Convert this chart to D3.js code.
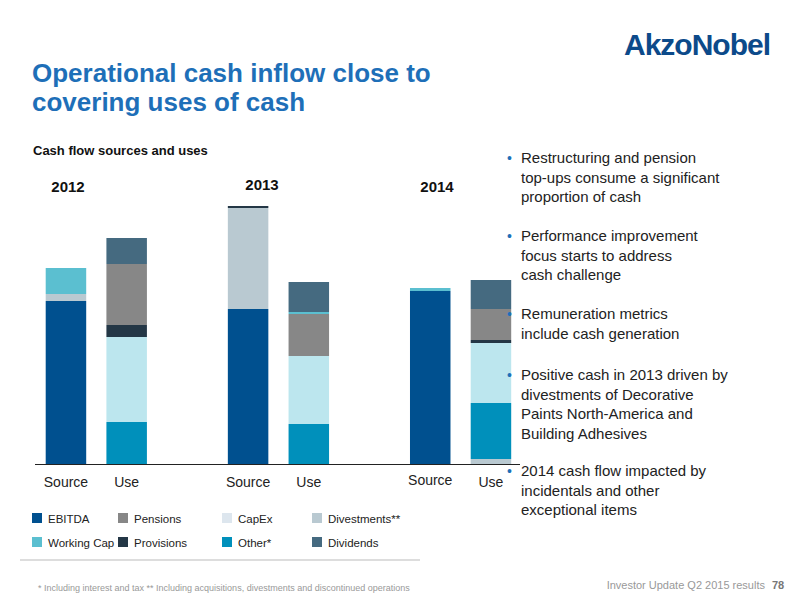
<!DOCTYPE html><html><head><meta charset="utf-8"><script src="https://cdn.jsdelivr.net/npm/d3@7"></script>
<style>body{margin:0;background:#fff}svg{font-family:Arial,"Liberation Sans",sans-serif}</style></head><body>
<svg id="c" width="800" height="600"></svg>
<script>
const seriesNames=["EBITDA","Working Cap","Pensions","Provisions","CapEx","Other*","Divestments**","Dividends"];
const sourceOrder=["EBITDA","Divestments**","Provisions","Working Cap","Other*","CapEx","Pensions","Dividends"];
const useOrder=["Divestments**","Other*","CapEx","Provisions","Pensions","Working Cap","Dividends","EBITDA"];
const bars=["2012 Source","2012 Use","2013 Source","2013 Use","2014 Source","2014 Use"];
const barLabels=["Source","Use","Source","Use","Source","Use"];
const years=["2012","2013","2014"];
const EBITDA=[163,0,155,0,173,0];
const WorkingCap=[26,0,0,2,3,0];
const Pensions=[0,61,0,42,0,31];
const Provisions=[0,12,2,0,0,3];
const CapEx=[0,85,0,68,0,60];
const Other=[0,42,0,40,0,56];
const Divestments=[7,0,101,0,0,5];
const Dividends=[0,26,0,30,0,29];
const colors={"EBITDA":"#00508f","Working Cap":"#5bbfd0","Pensions":"#878787","Provisions":"#243746","CapEx":"#bce6ee","Other*":"#0090bb","Divestments**":"#b9c9d1","Dividends":"#456a80"};
const legendColors=Object.assign({},colors,{"CapEx":"#dde6ee"});
const valMap={"EBITDA":EBITDA,"Working Cap":WorkingCap,"Pensions":Pensions,"Provisions":Provisions,"CapEx":CapEx,"Other*":Other,"Divestments**":Divestments,"Dividends":Dividends};
const slots=[0,1,3,4,6,7];
const svg=d3.select("#c");
const x=d3.scaleLinear().domain([0,7]).range([45.7,470.7]);
const bw=40.5;
const y=d3.scaleLinear().domain([0,260]).range([464,204]);
bars.forEach((b,i)=>{
 const o={bar:b};seriesNames.forEach(s=>o[s]=valMap[s][i]);
 const order=i%2?useOrder:sourceOrder;
 const st=d3.stack().keys(order)([o]);
 svg.append("g").selectAll("rect").data(st).join("rect")
  .attr("x",x(slots[i])).attr("width",bw)
  .attr("y",d=>y(d[0][1])).attr("height",d=>y(d[0][0])-y(d[0][1]))
  .attr("fill",d=>colors[d.key]);
});
svg.append("line").attr("x1",35).attr("x2",520).attr("y1",464.5).attr("y2",464.5).attr("stroke","#222").attr("stroke-width",1.2);
svg.append("g").selectAll("text").data(barLabels).join("text")
 .attr("x",(d,i)=>x(slots[i])+bw/2).attr("y",(d,i)=>i==4?485:487).attr("text-anchor","middle")
 .attr("font-size",14).attr("fill","#222").text(d=>d);
const yx=[68,262,437],yy=[192,190,192];
svg.append("g").selectAll("text").data(years).join("text").attr("x",(d,i)=>yx[i]).attr("y",(d,i)=>yy[i])
 .attr("text-anchor","middle").attr("font-size",15).attr("font-weight","bold").attr("fill","#111").text(d=>d);
svg.append("text").attr("x",32).attr("y",82).attr("font-size",26).attr("font-weight","bold").attr("fill","#1e6fb8").text("Operational cash inflow close to");
svg.append("text").attr("x",32).attr("y",111).attr("font-size",26).attr("font-weight","bold").attr("fill","#1e6fb8").text("covering uses of cash");
svg.append("text").attr("x",770).attr("y",55).attr("text-anchor","end").attr("font-size",30).attr("font-weight","bold").attr("fill","#0c4a8a").attr("letter-spacing",-1).text("AkzoNobel");
svg.append("text").attr("x",33).attr("y",155).attr("font-size",13).attr("font-weight","bold").attr("fill","#111").text("Cash flow sources and uses");
const legRows=[["EBITDA","Pensions","CapEx","Divestments**"],["Working Cap","Provisions","Other*","Dividends"]];
const lx=[32,118,222,312];
legRows.forEach((row,r)=>row.forEach((s,c)=>{
 const g=svg.append("g").attr("transform",`translate(${lx[c]},${r?537:513})`);
 g.append("rect").attr("width",10).attr("height",10).attr("fill",legendColors[s]);
 g.append("text").attr("x",16).attr("y",9.5).attr("font-size",11.5).attr("fill","#222").text(s);
}));
svg.append("line").attr("x1",20).attr("x2",420).attr("y1",560).attr("y2",560).attr("stroke","#bbb");
svg.append("text").attr("x",38).attr("y",591).attr("font-size",9).attr("fill","#999").text("* Including interest and tax   ** Including acquisitions, divestments and discontinued operations");
svg.append("text").attr("x",765).attr("y",589).attr("text-anchor","end").attr("font-size",11).attr("fill","#999").text("Investor Update Q2 2015 results");
svg.append("text").attr("x",778).attr("y",589).attr("text-anchor","middle").attr("font-size",11).attr("font-weight","bold").attr("fill","#777").text("78");
const bullets=[["Restructuring and pension","top-ups consume a significant","proportion of cash"],["Performance improvement","focus starts to address","cash challenge"],["Remuneration metrics","include cash generation"],["Positive cash in 2013 driven by","divestments of Decorative","Paints North-America and","Building Adhesives"],["2014 cash flow impacted by","incidentals and other","exceptional items"]];
const by=[163,241,319,380,476];
bullets.forEach((b,i)=>{
 svg.append("text").attr("x",507).attr("y",by[i]).attr("font-size",14).attr("fill","#1e6fb8").text("•");
 b.forEach((l,j)=>svg.append("text").attr("x",521).attr("y",by[i]+j*19.5).attr("font-size",15).attr("fill","#222").text(l));
});
</script></body></html>
